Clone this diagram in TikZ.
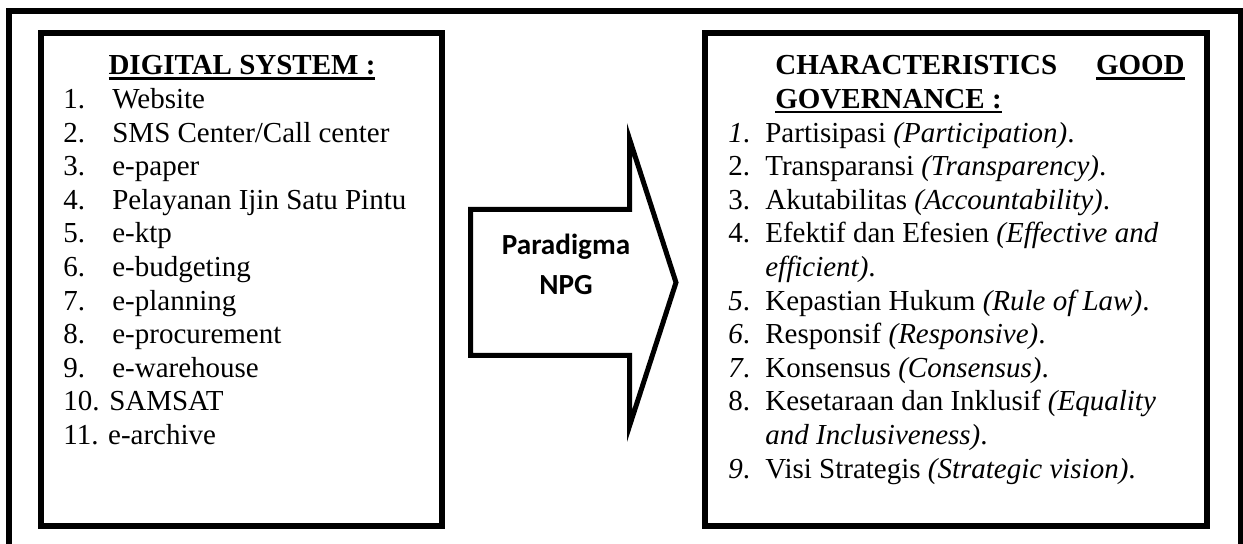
\documentclass[tikz,border=0pt]{standalone}
\usepackage{fontspec}
\setmainfont{Liberation Serif}[
  BoldFont={Liberation Serif Bold},
  ItalicFont={Liberation Serif Italic},
  BoldItalicFont={Liberation Serif Bold Italic}]
\newfontfamily\arrowfont{Carlito}

% thick underline for the headings
\newcommand\headline[1]{\setbox0=\hbox{#1}\rlap{\rule[-2.65pt]{\wd0}{1.5pt}}\box0}

\tikzset{
  frame/.style={draw,line width=1.2mm,line join=miter},
  txt/.style={anchor=base west,inner sep=0pt,font=\fontsize{16.5}{19}\selectfont},
  head/.style={txt,font=\fontsize{16.5}{19}\selectfont\bfseries},
  npg/.style={anchor=base,inner sep=0pt,font=\arrowfont\bfseries\fontsize{16.6}{19}\selectfont},
}

\begin{document}
\begin{tikzpicture}[x=0.2mm,y=-0.2mm]
\useasboundingbox (0,0) rectangle (1243,544);

% outer frame (runs off the bottom)
\draw[line width=1.1mm,line join=miter] (9,560) -- (9,11) -- (1241,11) -- (1241,560);

% the two boxes
\draw[frame] (41,33) rectangle (441.5,526);
\draw[frame] (705,33) rectangle (1207,526);

% block arrow
\draw[line width=1mm,line join=miter] (470.5,209.5) -- (629.5,209.5) -- (629.5,139) -- (676,282.5)
  -- (629.5,426) -- (629.5,355.5) -- (470.5,355.5) -- cycle;
\node[npg] (npga) at (566,255) {Paradigma};
\node[npg] (npgb) at (566,295) {NPG};

% left box
\node[head,anchor=base] (dtitle) at (242,75) {\headline{DIGITAL SYSTEM :}};
\node[txt] (dn1) at (63,108.6) {1.};
\node[txt] (dt1) at (112,108.6) {Website};
\node[txt] (dn2) at (63,142.2) {2.};
\node[txt] (dt2) at (112,142.2) {SMS Center/Call center};
\node[txt] (dn3) at (63,175.8) {3.};
\node[txt] (dt3) at (112,175.8) {e-paper};
\node[txt] (dn4) at (63,209.4) {4.};
\node[txt] (dt4) at (112,209.4) {Pelayanan Ijin Satu Pintu};
\node[txt] (dn5) at (63,243) {5.};
\node[txt] (dt5) at (112,243) {e-ktp};
\node[txt] (dn6) at (63,276.6) {6.};
\node[txt] (dt6) at (112,276.6) {e-budgeting};
\node[txt] (dn7) at (63,310.2) {7.};
\node[txt] (dt7) at (112,310.2) {e-planning};
\node[txt] (dn8) at (63,343.8) {8.};
\node[txt] (dt8) at (112,343.8) {e-procurement};
\node[txt] (dn9) at (63,377.4) {9.};
\node[txt] (dt9) at (112,377.4) {e-warehouse};
\node[txt] (dn10) at (63,411) {10. SAMSAT};
\node[txt] (dn11) at (63,444.6) {11. e-archive};

% right box
\node[head] (gtitle) at (775,75) {CHARACTERISTICS};
\node[head,anchor=base east] (ggood) at (1185,75) {\headline{GOOD}};
\node[head] (ggov) at (775,108.6) {\headline{GOVERNANCE :}};
\node[txt] (gn1) at (728,142.2) {\textit{1}.};
\node[txt] (gt1) at (765,142.2) {Partisipasi \textit{(Participation)}.};
\node[txt] (gn2) at (728,175.8) {2.};
\node[txt] (gt2) at (765,175.8) {Transparansi \textit{(Transparency)}.};
\node[txt] (gn3) at (728,209.4) {3.};
\node[txt] (gt3) at (765,209.4) {Akutabilitas \textit{(Accountability)}.};
\node[txt] (gn4) at (728,243) {4.};
\node[txt] (gt4) at (765,243) {Efektif dan Efesien \textit{(Effective and}};
\node[txt] (gt4b) at (765,276.6) {\textit{efficient)}.};
\node[txt] (gn5) at (728,310.2) {\textit{5}.};
\node[txt] (gt5) at (765,310.2) {Kepastian Hukum \textit{(Rule of Law)}.};
\node[txt] (gn6) at (728,343.8) {\textit{6}.};
\node[txt] (gt6) at (765,343.8) {Responsif \textit{(Responsive)}.};
\node[txt] (gn7) at (728,377.4) {\textit{7}.};
\node[txt] (gt7) at (765,377.4) {Konsensus \textit{(Consensus)}.};
\node[txt] (gn8) at (728,411) {8.};
\node[txt] (gt8) at (765,411) {Kesetaraan dan Inklusif \textit{(Equality}};
\node[txt] (gt8b) at (765,444.6) {\textit{and Inclusiveness)}.};
\node[txt] (gn9) at (728,478.2) {\textit{9}.};
\node[txt] (gt9) at (765,478.2) {Visi Strategis \textit{(Strategic vision)}.};
\end{tikzpicture}
\end{document}
